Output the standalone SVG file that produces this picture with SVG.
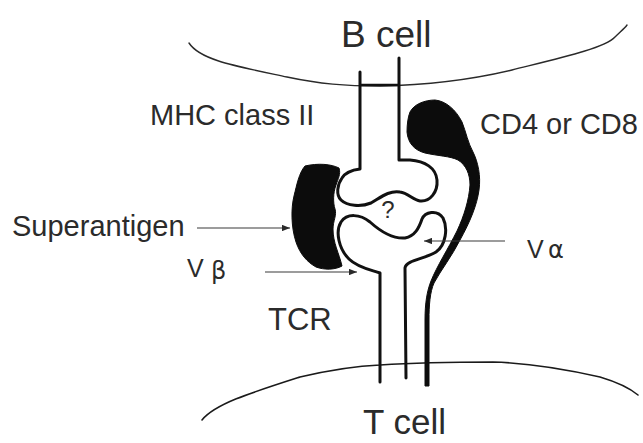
<svg xmlns="http://www.w3.org/2000/svg" width="643" height="443" viewBox="0 0 643 443">
  <style>
    .lbl { font-family: "Liberation Sans", Arial, sans-serif; fill: #2b2b2b; }
    .cell { font-size: 37px; }
    .tag { font-size: 29px; }
    .greek { font-family: "DejaVu Sans", "Liberation Sans", sans-serif; font-size: 24px; fill: #2b2b2b; }
    .membrane { fill: none; stroke: #2a2a2a; stroke-width: 1.4; stroke-linecap: round; }
    .chain { fill: none; stroke: #111; stroke-width: 3; stroke-linecap: round; stroke-linejoin: round; }
    .blob { fill: #0c0c0c; stroke: #0c0c0c; stroke-width: 1; stroke-linejoin: round; }
    .arrow { fill: none; stroke: #3a3a3a; stroke-width: 1.1; marker-end: url(#head); }
  </style>
  <defs>
    <marker id="head" viewBox="0 0 10 8" refX="10" refY="4" markerWidth="8" markerHeight="6.4" markerUnits="userSpaceOnUse" orient="auto">
      <path d="M0,0 L10,4 L0,8 Z" fill="#2a2a2a"/>
    </marker>
  </defs>
  <rect width="643" height="443" fill="#ffffff"/>

  <!-- B cell membrane -->
  <g id="b-cell">
    <path class="membrane" d="M189,43 C200,60 235,66 287,77 C320,84 345,86 380,86 C430,85 470,80 512,70 C560,58 605,48 615,37 C620,32 625,28 627,25"/>
    <text class="lbl cell" x="341" y="47">B cell</text>
  </g>

  <!-- T cell membrane -->
  <g id="t-cell">
    <path class="membrane" style="stroke:#1a1a1a;stroke-width:1.6" d="M202,420 C215,404 250,393 300,377 C330,370 355,366 380,365 C410,363 450,362 493,362 C530,363 565,369 600,377 C620,383 632,390 638,395"/>
    <text class="lbl" x="363" y="434" font-size="35">T cell</text>
  </g>

  <!-- MHC class II -->
  <g id="mhc">
    <path class="chain" d="M360,72 L360,169 C352,170 345,173 342,178 C337,185 336,195 341,200 C347,206 361,207 371,203 C380,198 389,190 400,192 C408,193 413,200 420,201 C430,202 438,192 437,180 C436,168 425,161 410,160 L399,160 L399,58"/>
    <path d="M360,85 L399,85" stroke="#111" stroke-width="2.4"/>
    <text class="lbl tag" x="150" y="125">MHC class II</text>
  </g>

  <!-- T cell receptor -->
  <g id="tcr">
    <path class="chain" d="M380,382 L380,273 C372,270 358,268 349,259 C339,249 335,232 341,222 C347,213 360,214 370,222 C380,231 392,239 405,238 C415,236 419,228 422,219 C425,212 437,209 443,218 C448,228 446,245 436,252 C425,259 406,260 405,268 L406,378"/>
    <text class="lbl" x="388" y="218" font-size="24" text-anchor="middle" fill="#2b2b2b">?</text>
    <text class="lbl" x="268" y="330" font-size="31">TCR</text>
  </g>

  <!-- CD4 / CD8 co-receptor -->
  <g id="cd4">
    <path class="blob" d="M410,112 C414,104 425,100 435,100 C446,101 456,110 462,122 C466,132 468,143 473,152 C478,162 481,176 479,190 C477,205 470,222 460,240 C452,256 441,270 434,283 C430,292 429,305 429,320 L429,386 L425,386 L425,320 C425,303 427,291 431,281 C437,266 448,249 457,231 C464,216 469,200 470,185 C470,174 466,165 458,160 C450,156 438,156 425,153 C414,150 408,143 407,132 C407,124 408,117 410,112 Z"/>
    <text class="lbl tag" x="480" y="134">CD4 or CD8</text>
  </g>

  <!-- Superantigen -->
  <g id="superantigen">
    <path class="blob" d="M305,166 C318,163 331,164 339,168 C341,174 338,179 336,185 C333,193 333,203 335,209 C337,215 333,221 333,229 C333,243 339,253 342,266 C335,270 324,270 316,267 C307,262 300,254 296,242 C291,227 291,208 294,196 C297,184 299,173 305,166 Z"/>
    <text class="lbl tag" x="12" y="236">Superantigen</text>
  </g>

  <!-- V-region labels -->
  <g id="v-beta">
    <text class="lbl" x="187" y="277" font-size="25">V</text>
    <text class="greek" x="211" y="279">β</text>
  </g>
  <g id="v-alpha">
    <text class="lbl" x="527" y="258" font-size="25">V</text>
    <text class="greek" x="548" y="258">α</text>
  </g>

  <!-- pointer arrows -->
  <g id="connectors">
    <path class="arrow" d="M197,228 L290,228"/>
    <path class="arrow" d="M265,272 L357,272"/>
    <path class="arrow" d="M505,241 L424,241"/>
  </g>
</svg>
